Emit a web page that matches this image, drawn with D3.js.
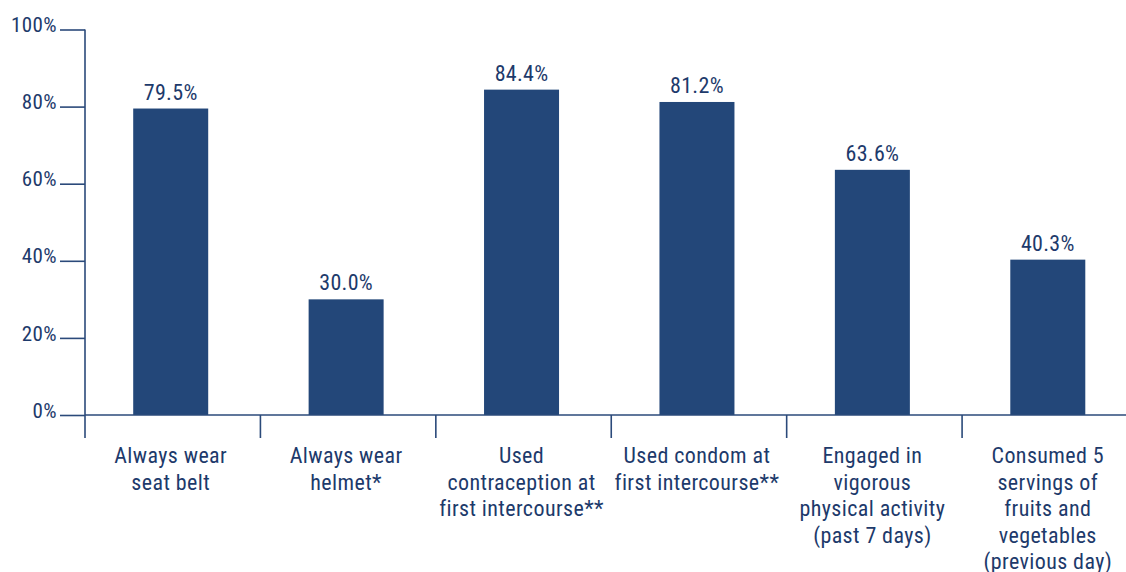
<!DOCTYPE html>
<html><head><meta charset="utf-8">
<script src="https://cdn.jsdelivr.net/npm/d3@7"></script>
<style>
body{margin:0;background:#fff;}
text{font-family:"Roboto Condensed","Liberation Sans Narrow","Arial Narrow",sans-serif;fill:#1d3a6b;}
</style></head>
<body><svg id="c" width="1126" height="572"></svg>
<script>
const categories = [
  ["Always wear","seat belt"],
  ["Always wear","helmet*"],
  ["Used","contraception at","first intercourse**"],
  ["Used condom at","first intercourse**"],
  ["Engaged in","vigorous","physical activity","(past 7 days)"],
  ["Consumed 5","servings of","fruits and","vegetables","(previous day)"]
];
const values = [79.5, 30.0, 84.4, 81.2, 63.6, 40.3];
const yTicks = [0, 20, 40, 60, 80, 100];

const svg = d3.select("#c");
const navy = "#234779", axisCol = "#2b4a7a";
const x = d3.scaleBand().domain(d3.range(categories.length)).range([85, 1137.5]).padding(0);
const y = d3.scaleLinear().domain([0, 100]).range([415, 29.5]);

// bars
const bw = 75;
svg.selectAll("rect.bar").data(values).enter().append("rect")
  .attr("x", (d,i) => x(i) + x.bandwidth()/2 - 2 - bw/2)
  .attr("width", bw)
  .attr("y", d => y(d))
  .attr("height", d => y(0) - y(d))
  .attr("fill", navy);

// value labels
svg.selectAll("text.val").data(values).enter().append("text")
  .attr("x", (d,i) => x(i) + x.bandwidth()/2 - 2)
  .attr("y", d => y(d) - 9)
  .attr("text-anchor", "middle")
  .attr("font-size", 22)
  .attr("letter-spacing", 0.3)
  .text(d => d.toFixed(1) + "%");

// y axis
const yAxis = d3.axisLeft(y).tickValues(yTicks).tickFormat(d => d + "%").tickSize(25).tickPadding(3);
const gy = svg.append("g").attr("transform", "translate(85,0)").call(yAxis);
gy.attr("font-family", null).attr("font-size", null);
gy.select(".domain").remove();
gy.append("line").attr("x1",0).attr("x2",0).attr("y1",y(100)).attr("y2",y(0)+23).attr("stroke",axisCol).attr("stroke-width",1.6);
gy.selectAll(".tick line").attr("stroke", axisCol).attr("stroke-width", 1.6);
gy.selectAll(".tick text").attr("font-size", 21).attr("letter-spacing", 0.4).attr("fill", "#1d3a6b").attr("dy","0.1em");

// x axis
svg.append("line").attr("x1", 85).attr("x2", 1126).attr("y1", y(0)).attr("y2", y(0)).attr("stroke", axisCol).attr("stroke-width", 1.6);
svg.selectAll("line.sep").data(d3.range(1, categories.length)).enter().append("line")
  .attr("x1", i => x(i)).attr("x2", i => x(i))
  .attr("y1", y(0)).attr("y2", y(0) + 23)
  .attr("stroke", axisCol).attr("stroke-width", 1.6);

// category labels
categories.forEach((lines, i) => {
  const cx = x(i) + x.bandwidth()/2 - 2;
  const t = svg.append("text").attr("text-anchor", "middle").attr("font-size", 22)
    .attr("letter-spacing", 0.4)
    .attr("x", cx).attr("y", 463);
  lines.forEach((ln, j) => {
    t.append("tspan").attr("x", cx).attr("dy", j === 0 ? 0 : 26.5).text(ln);
  });
});
</script></body></html>
